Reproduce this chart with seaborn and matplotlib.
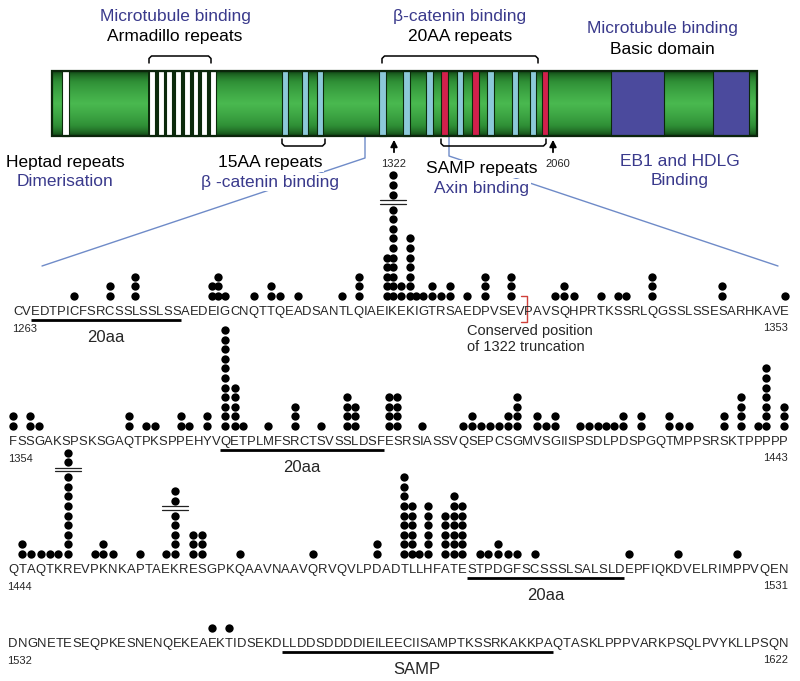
import numpy as np
import pandas as pd
import matplotlib
matplotlib.use("Agg")
import matplotlib.pyplot as plt
import seaborn as sns
from matplotlib.patches import Rectangle
from matplotlib.colors import LinearSegmentedColormap

# ---- data: APC residues 1263-1622, mutation counts per residue ----
row_starts = [1263, 1354, 1444, 1532]
row_ends = [1353, 1443, 1531, 1622]
row_seqs = [
    "CVEDTPICFSRCSSLSSLSSAEDEIGCNQTTQEADSANTLQIAEIKEKIGTRSAEDPVSEVPAVSQHPRTKSSRLQGSSLSSESARHKAVE",
    "FSSGAKSPSKSGAQTPKSPPEHYVQETPLMFSRCTSVSSLDSFESRSIASSVQSEPCSGMVSGIISPSDLPDSPGQTMPPSRSKTPPPPP",
    "QTAQTKREVPKNKAPTAEKRESGPKQAAVNAAVQRVQVLPDADTLLHFATESTPDGFSCSSSLSALSLDEPFIQKDVELRIMPPVQEN",
    "DNGNETESEQPKESNENQEKEAEKTIDSEKDLLDDSDDDDIEILEECIISAMPTKSSRKAKKPAQTASKLPPPVARKPSQLPVYKLLPSQN",
]

row1_counts = {1270: 1, 1274: 2, 1277: 3, 1286: 2, 1287: 3, 1288: 1, 1291: 1, 1293: 2,
               1294: 1, 1296: 1, 1301: 1, 1303: 3, 1307: 5, 1308: 13, 1309: 2, 1310: 7,
               1311: 1, 1312: 1, 1313: 2, 1314: 1, 1315: 2, 1317: 1, 1319: 3, 1322: 3,
               1327: 1, 1328: 2, 1329: 1, 1332: 1, 1334: 1, 1335: 1, 1338: 3, 1346: 2,
               1353: 1}
row2_counts = {1354: 2, 1356: 2, 1357: 1, 1367: 2, 1369: 1, 1370: 1, 1373: 2, 1374: 1,
               1376: 2, 1378: 11, 1379: 5, 1380: 1, 1383: 1, 1386: 3, 1389: 1, 1392: 4,
               1393: 3, 1397: 4, 1398: 4, 1401: 1, 1406: 1, 1407: 2, 1408: 1, 1409: 1,
               1410: 1, 1411: 2, 1412: 4, 1414: 2, 1415: 1, 1416: 2, 1420: 1, 1421: 1,
               1422: 1, 1423: 1, 1424: 1, 1425: 2, 1427: 2, 1430: 2, 1431: 1, 1432: 1,
               1436: 2, 1438: 4, 1440: 1, 1441: 7, 1443: 3}
row3_counts = {1445: 2, 1446: 1, 1447: 1, 1448: 1, 1449: 1, 1450: 11, 1453: 1, 1454: 2,
               1455: 1, 1458: 1, 1461: 1, 1462: 7, 1464: 3, 1465: 3, 1469: 1, 1477: 1,
               1484: 2, 1487: 9, 1488: 6, 1489: 1, 1490: 6, 1492: 5, 1493: 7, 1494: 6,
               1496: 1, 1497: 1, 1498: 2, 1499: 1, 1500: 1, 1502: 1, 1513: 1, 1519: 1,
               1526: 1}
row4_counts = {1554: 1, 1556: 1}
row_counts = [row1_counts, row2_counts, row3_counts, row4_counts]

# columns cut by a break mark: number of dots drawn above the mark
break_above = {1308: 3, 1450: 2, 1462: 2}

# underlined motifs (first residue, last residue, label)
motifs = [(1265, 1282, "20aa"), (1378, 1396, "20aa"), (1495, 1512, "20aa"), (1563, 1595, "SAMP")]

# ---- layout ----
W = {'A': 667, 'C': 722, 'D': 722, 'E': 667, 'F': 611, 'G': 778, 'H': 722, 'I': 278,
     'K': 667, 'L': 556, 'M': 833, 'N': 722, 'P': 667, 'Q': 778, 'R': 722, 'S': 667,
     'T': 611, 'V': 667, 'W': 944, 'Y': 667}
row_text_y = [310, 440, 568, 642]
row_x0 = [13, 9, 8, 8]
row_x1 = [789, 788, 788, 788]
DOT_STEP = 9.6
BREAK_GAP = 5.5
BLUE_TXT = "#3a3a8c"
LINE_BLUE = "#6f8bc8"

sns.set_style("white")
plt.rcParams["font.family"] = ["Liberation Sans", "DejaVu Sans"]

fig = plt.figure(figsize=(8, 6.81), dpi=100)
ax = fig.add_axes([0, 0, 1, 1])


def letter_layout(seq, x0, x1):
    w = np.array([W[c] for c in seq], float)
    edges = np.concatenate([[0], np.cumsum(w)])
    scale = (x1 - x0) / edges[-1]
    return x0 + (edges[:-1] + w / 2) * scale, x0 + edges * scale


layouts = [letter_layout(row_seqs[i], row_x0[i], row_x1[i]) for i in range(4)]

# ---- dots ----
records = []
break_marks = []
for i in range(4):
    centres, _ = layouts[i]
    base = row_text_y[i] - 14
    for res, n in row_counts[i].items():
        x = centres[res - row_starts[i]]
        nb = break_above.get(res, 0)
        for k in range(n):
            y = base - k * DOT_STEP
            if nb and k >= n - nb:
                y -= BREAK_GAP
            records.append((x, y))
        if nb:
            ymid = base - (n - nb - 1) * DOT_STEP - (DOT_STEP + BREAK_GAP) / 2
            break_marks.append((x, ymid))
dots = pd.DataFrame(records, columns=["x", "y"])

sns.scatterplot(data=dots, x="x", y="y", color="black", s=36, linewidth=0,
                ax=ax, legend=False, zorder=5)
for x, ym in break_marks:
    for dy in (-1.6, 1.6):
        ax.plot([x - 13, x + 13], [ym + dy, ym + dy], color="#222222", lw=0.9, zorder=6)

# ---- sequence text, numbers, underlines ----
for i in range(4):
    centres, edges = layouts[i]
    ty = row_text_y[i]
    for ch, x in zip(row_seqs[i], centres):
        ax.text(x, ty + 4.6, ch, ha="center", va="baseline", fontsize=9.4)
    ax.text(row_x0[i] - 1, ty + 19, str(row_starts[i]), ha="left", va="center", fontsize=8)
    ax.text(788, ty + 18, str(row_ends[i]), ha="right", va="center", fontsize=8)

for s, e, lab in motifs:
    i = next(k for k in range(4) if row_starts[k] <= s <= row_ends[k])
    _, edges = layouts[i]
    xa = edges[s - row_starts[i]]
    xb = edges[e - row_starts[i] + 1]
    ax.plot([xa, xb], [row_text_y[i] + 10] * 2, color="black", lw=2, solid_capstyle="butt")
    ax.text((xa + xb) / 2, row_text_y[i] + 27, lab, ha="center", va="center", fontsize=12)

# conserved 1322 truncation bracket
_, e1 = layouts[0]
xb = e1[1323 - row_starts[0] + 1]
ax.plot([xb - 3, xb + 3, xb + 3, xb - 3], [296, 296, 322, 322], color="#d0403a", lw=1)
ax.text(467, 331, "Conserved position", ha="left", va="center", fontsize=10.5)
ax.text(467, 347, "of 1322 truncation", ha="left", va="center", fontsize=10.5)

# ---- protein domain bar ----
bar_x0, bar_x1, bar_y0, bar_y1 = 52, 757, 71, 136
t = np.linspace(0, 1, 64)
prof = np.clip(1 - np.abs(t - 0.5) * 2, 0, 1) ** 0.6
grad = np.tile(prof[:, None], (1, 2))
green = LinearSegmentedColormap.from_list("g", ["#0d3b10", "#2f8f36", "#49b84f"])
ax.imshow(grad, extent=(bar_x0, bar_x1, bar_y1, bar_y0), cmap=green, aspect="auto",
          interpolation="bilinear", zorder=1)

# armadillo repeats: white stripes on a dark background
ax.add_patch(Rectangle((148, bar_y0), 68, bar_y1 - bar_y0, facecolor="#0b2a0b",
                       edgecolor="none", zorder=2))
stripes = [(62, 69, "white")]
stripes += [(x, x + 5.8, "white") for x in [149, 157.7, 166.4, 175.1, 183.8, 192.5, 201.2, 209.9]]
stripes += [(282, 288, "#8cc9d9"), (302, 308, "#8cc9d9"), (317, 323, "#8cc9d9"),
            (379, 386, "#8cc9d9"), (403, 410, "#8cc9d9"), (426, 433, "#8cc9d9"),
            (441, 448, "#d2204c"), (457, 463, "#8cc9d9"), (472, 479, "#d2204c"),
            (487, 494, "#8cc9d9"), (512, 518, "#8cc9d9"), (530, 536, "#8cc9d9"),
            (542, 548, "#d2204c"), (611, 664, "#4b4a9d"), (713, 749, "#4b4a9d")]
for a, b, c in stripes:
    ax.add_patch(Rectangle((a, bar_y0), b - a, bar_y1 - bar_y0, facecolor=c,
                           edgecolor="#0b2a0b", lw=0.8, zorder=2))
ax.add_patch(Rectangle((bar_x0, bar_y0), bar_x1 - bar_x0, bar_y1 - bar_y0, fill=False,
                       edgecolor="#0b250b", lw=1.6, zorder=3))


def bracket(x0, x1, y_line, y_end):
    d = 2.5 if y_end > y_line else -2.5
    ax.plot([x0, x0, x0 + 2.5, x1 - 2.5, x1, x1],
            [y_end, y_line + d, y_line, y_line, y_line + d, y_end],
            color="black", lw=1.1, zorder=3)


bracket(149, 211, 56, 63)
bracket(382, 538, 56, 63)
bracket(282, 325, 146, 139)
bracket(441, 546, 146, 139)

# zoom lines from the bar to the sequence rows
ax.plot([365, 365, 42], [137, 158, 266], color=LINE_BLUE, lw=1, zorder=1)
ax.plot([449, 449, 778], [137, 156, 266], color=LINE_BLUE, lw=1, zorder=1)

# truncation arrows
for xa, lab in [(394, "1322"), (553, "2060")]:
    ax.annotate("", xy=(xa, 137), xytext=(xa, 155),
                arrowprops=dict(arrowstyle="-|>", color="black", lw=1.3, mutation_scale=10))
    ax.text(xa + (0 if lab == "1322" else 5), 164, lab, ha="center", va="center", fontsize=8)

# annotations
box = dict(facecolor="white", edgecolor="none", pad=1.0)
top_labels = [(175, 16, "Microtubule binding", BLUE_TXT), (175, 36, "Armadillo repeats", "black"),
              (460, 16, "β-catenin binding", BLUE_TXT), (460, 36, "20AA repeats", "black"),
              (662, 29, "Microtubule binding", BLUE_TXT), (662, 49, "Basic domain", "black"),
              (65, 162, "Heptad repeats", "black"), (65, 181, "Dimerisation", BLUE_TXT),
              (270, 163, "15AA repeats", "black"), (270, 182, "β -catenin binding", BLUE_TXT),
              (482, 169, "SAMP repeats", "black"), (482, 188, "Axin binding", BLUE_TXT),
              (680, 162, "EB1 and HDLG", BLUE_TXT), (680, 181, "Binding", BLUE_TXT)]
for x, y, s, c in top_labels:
    ax.text(x, y, s, ha="center", va="center", fontsize=12.5, color=c, bbox=box, zorder=4)

ax.set_xlim(0, 800)
ax.set_ylim(681, 0)
ax.axis("off")
fig.savefig("out.png", dpi=100)
